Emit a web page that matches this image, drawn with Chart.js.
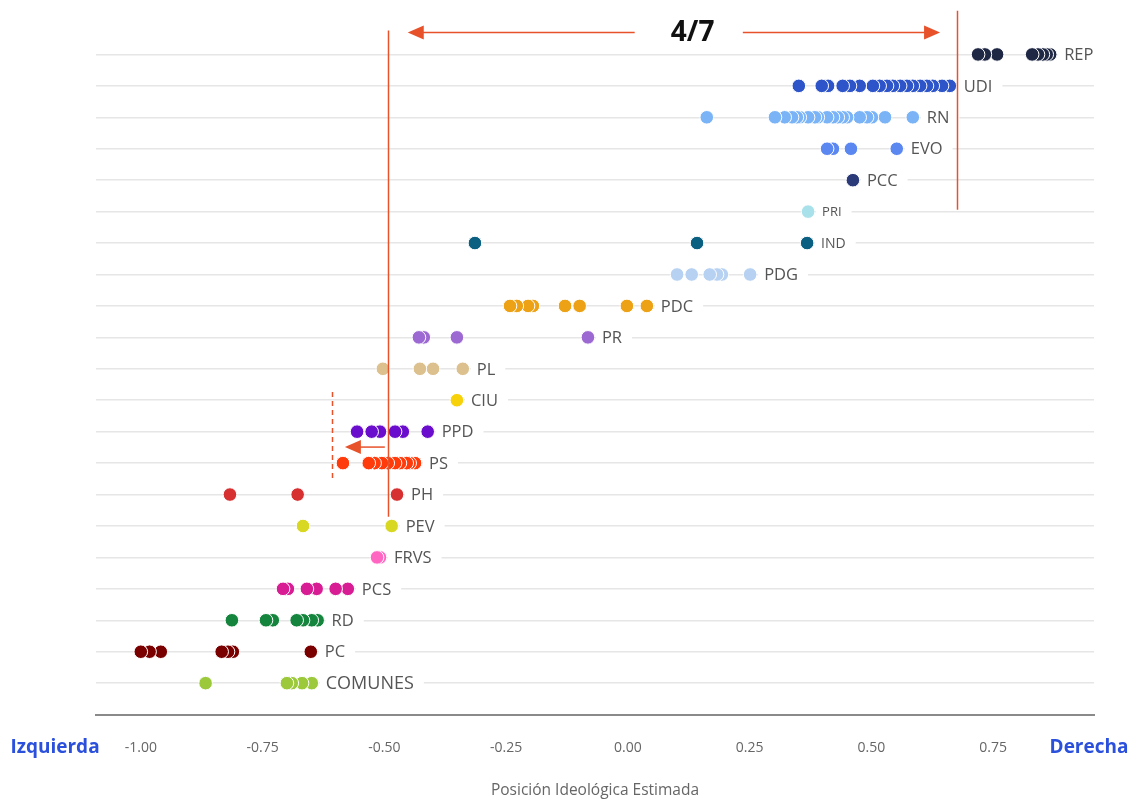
<!DOCTYPE html>
<html>
<head>
<meta charset="utf-8">
<script src="https://cdn.jsdelivr.net/npm/chart.js@4.4.1/dist/chart.umd.min.js"></script>
<style>
  html, body { margin: 0; padding: 0; background: #fff; }
  #wrap { width: 1132px; height: 800px; }
</style>
</head>
<body>
<div id="wrap"><canvas id="chart" width="1132" height="800"></canvas></div>
<script>
// partidos, de arriba hacia abajo
var partidos = ['REP', 'UDI', 'RN', 'EVO', 'PCC', 'PRI', 'IND', 'PDG', 'PDC', 'PR', 'PL',
                'CIU', 'PPD', 'PS', 'PH', 'PEV', 'FRVS', 'PCS', 'RD', 'PC', 'COMUNES'];

// posiciones ideológicas estimadas de cada parlamentario
var rep = [0.719, 0.733, 0.758, 0.830, 0.842, 0.852, 0.860, 0.867];
var udi = [0.351, 0.398, 0.411, 0.441, 0.456, 0.476, 0.503, 0.517, 0.532, 0.544, 0.559,
           0.573, 0.585, 0.600, 0.614, 0.626, 0.645, 0.661];
var rn = [0.162, 0.302, 0.322, 0.337, 0.347, 0.353, 0.370, 0.384, 0.390, 0.409, 0.421,
          0.431, 0.441, 0.450, 0.476, 0.491, 0.501, 0.528, 0.585];
var evo = [0.409, 0.421, 0.458, 0.552];
var pcc = [0.462];
var pri = [0.370];
var ind = [-0.314, 0.142, 0.368];
var pdg = [0.101, 0.131, 0.168, 0.183, 0.193, 0.251];
var pdc = [-0.242, -0.228, -0.205, -0.195, -0.129, -0.099, -0.002, 0.039];
var pr = [-0.429, -0.419, -0.351, -0.082];
var pl = [-0.503, -0.427, -0.400, -0.339];
var ciu = [-0.351];
var ppd = [-0.556, -0.526, -0.509, -0.478, -0.462, -0.411];
var ps = [-0.585, -0.532, -0.520, -0.505, -0.493, -0.478, -0.468, -0.454, -0.448, -0.437];
var ph = [-0.817, -0.678, -0.474];
var pev = [-0.667, -0.485];
var frvs = [-0.515, -0.509];
var pcs = [-0.708, -0.698, -0.659, -0.639, -0.600, -0.575];
var rd = [-0.813, -0.743, -0.729, -0.680, -0.667, -0.649, -0.637];
var pc = [-1.000, -0.982, -0.959, -0.834, -0.821, -0.811, -0.651];
var comunes = [-0.867, -0.700, -0.690, -0.669, -0.649];

var valores = [rep, udi, rn, evo, pcc, pri, ind, pdg, pdc, pr, pl, ciu, ppd, ps, ph, pev,
               frvs, pcs, rd, pc, comunes];

var colores = ['#1e2744', '#2d55c9', '#7ab4f7', '#5b87f0', '#2b3a78', '#a9e1ea', '#0b5f80',
               '#b6d1f1', '#eda114', '#9c68d2', '#dcc08e', '#f7d20a', '#6a0dcc', '#ff3b0c',
               '#d63031', '#d8d822', '#ff66c2', '#d81c94', '#15843d', '#7a0000', '#9cc93b'];

var ticksX = [-1, -0.75, -0.5, -0.25, 0, 0.25, 0.5, 0.75];

// anotaciones en rojo (en unidades de los ejes)
var rojo = '#e8522b';
var anotaciones = {
    lineas: [
        { x: -0.493, y1: 20.76, y2: 5.29, dash: [] },
        { x: 0.676, y1: 21.39, y2: 15.06, dash: [] },
        { x: -0.608, y1: 9.26, y2: 6.43, dash: [5, 4] }
    ],
    flechas: [
        { y: 20.70, x1: 0.014, x2: -0.452 },
        { y: 20.70, x1: 0.236, x2: 0.641 },
        { y: 7.51, x1: -0.499, x2: -0.581 }
    ],
    texto: { x: 0.133, y: 20.67, label: '4/7' }
};

var tamanoEtiqueta = { PRI: 13, IND: 14, COMUNES: 18 };

var nFilas = partidos.length;
var datasets = partidos.map(function(p, i) {
    // de derecha a izquierda, así el punto de la izquierda queda arriba
    var orden = valores[i].slice().sort(function(a, b) { return b - a; });
    return {
        label: p,
        data: orden.map(function(v) { return { x: v, y: nFilas - 1 - i }; }),
        backgroundColor: colores[i],
        borderColor: '#ffffff',
        borderWidth: 1,
        pointRadius: 6.8,
        pointHoverRadius: 6.8
    };
});

// etiquetas de partido a la derecha del último punto
var etiquetasPlugin = {
    id: 'etiquetas',
    afterDatasetsDraw: function(chart) {
        var ctx = chart.ctx;
        var xs = chart.scales.x, ys = chart.scales.y;
        ctx.save();
        partidos.forEach(function(p, i) {
            var max = Math.max.apply(null, valores[i]);
            var px = xs.getPixelForValue(max);
            var py = ys.getPixelForValue(nFilas - 1 - i);
            var size = tamanoEtiqueta[p] || 16.5;
            ctx.font = size + 'px "Open Sans", "Noto Sans", sans-serif';
            var w = ctx.measureText(p).width;
            ctx.fillStyle = '#ffffff';
            ctx.fillRect(px + 8, py - 4, w + 16, 8);
            ctx.fillStyle = '#555555';
            ctx.textBaseline = 'middle';
            ctx.textAlign = 'left';
            ctx.fillText(p, px + 14, py + 1);
        });
        ctx.restore();
    }
};

var anotacionesPlugin = {
    id: 'anotaciones',
    afterDraw: function(chart) {
        var ctx = chart.ctx;
        var xs = chart.scales.x, ys = chart.scales.y;
        ctx.save();
        ctx.strokeStyle = rojo;
        ctx.fillStyle = rojo;
        ctx.lineWidth = 1.5;
        anotaciones.lineas.forEach(function(l) {
            var x = Math.round(xs.getPixelForValue(l.x)) + 0.5;
            ctx.setLineDash(l.dash);
            ctx.beginPath();
            ctx.moveTo(x, ys.getPixelForValue(l.y1));
            ctx.lineTo(x, ys.getPixelForValue(l.y2));
            ctx.stroke();
        });
        ctx.setLineDash([]);
        anotaciones.flechas.forEach(function(f) {
            var y = ys.getPixelForValue(f.y);
            var a = xs.getPixelForValue(f.x1), b = xs.getPixelForValue(f.x2);
            var dir = b > a ? 1 : -1;
            ctx.beginPath();
            ctx.moveTo(a, y);
            ctx.lineTo(b - dir * 14, y);
            ctx.stroke();
            ctx.beginPath();
            ctx.moveTo(b, y);
            ctx.lineTo(b - dir * 16, y - 7);
            ctx.lineTo(b - dir * 16, y + 7);
            ctx.closePath();
            ctx.fill();
        });
        var t = anotaciones.texto;
        ctx.fillStyle = '#111111';
        ctx.font = 'bold 28px "Open Sans", "Noto Sans", sans-serif';
        ctx.textAlign = 'center';
        ctx.textBaseline = 'middle';
        ctx.fillText(t.label, xs.getPixelForValue(t.x), ys.getPixelForValue(t.y));

        // extremos del eje
        var yTick = xs.top + 25 + 8;
        ctx.fillStyle = '#2a50dc';
        ctx.font = 'bold 19px "Open Sans", "Noto Sans", sans-serif';
        ctx.fillText('Izquierda', 55, yTick);
        ctx.fillText('Derecha', 1089, yTick);
        ctx.restore();
    }
};

new Chart(document.getElementById('chart'), {
    type: 'scatter',
    data: { datasets: datasets },
    options: {
        responsive: false,
        animation: false,
        events: [],
        layout: { padding: { left: 96, right: 38, top: 23, bottom: 0 } },
        plugins: {
            legend: { display: false },
            tooltip: { enabled: false }
        },
        scales: {
            x: {
                type: 'linear',
                min: -1.092,
                max: 0.957,
                afterBuildTicks: function(axis) {
                    axis.ticks = ticksX.map(function(v) { return { value: v }; });
                },
                grid: { display: false, drawTicks: false },
                border: { display: true, color: '#8a8a8a', width: 2 },
                ticks: {
                    padding: 25,
                    color: '#666666',
                    font: { size: 14, family: '"Open Sans", "Noto Sans", sans-serif' },
                    callback: function(v) { return Number(v).toFixed(2); }
                },
                title: {
                    display: true,
                    text: 'Posición Ideológica Estimada',
                    color: '#666666',
                    font: { size: 15.5, family: '"Open Sans", "Noto Sans", sans-serif' },
                    padding: { top: 0, bottom: 0 }
                }
            },
            y: {
                type: 'linear',
                min: -1,
                max: 21,
                ticks: { display: false, stepSize: 1 },
                border: { display: false },
                grid: {
                    drawTicks: false,
                    lineWidth: 1.5,
                    color: function(c) {
                        var v = c.tick && c.tick.value;
                        return (v >= 0 && v <= nFilas - 1) ? '#e6e6e6' : 'rgba(0,0,0,0)';
                    }
                }
            }
        }
    },
    plugins: [etiquetasPlugin, anotacionesPlugin]
});
</script>
</body>
</html>
